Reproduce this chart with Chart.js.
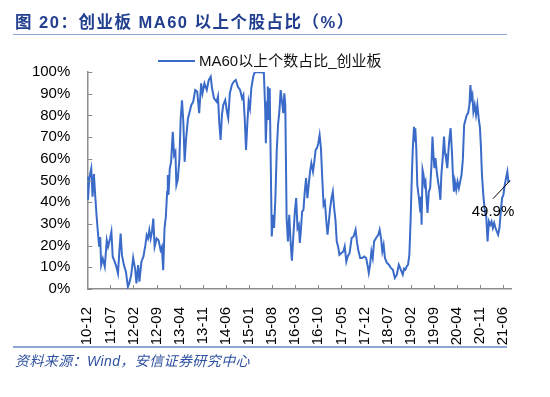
<!DOCTYPE html>
<html>
<head>
<meta charset="utf-8">
<script src="https://cdn.jsdelivr.net/npm/chart.js@4.4.0/dist/chart.umd.min.js"></script>
<style>
  body { margin: 0; background: #fff; }
  #wrap { position: relative; width: 550px; height: 397px; overflow: hidden; }
  #grafico { position: absolute; left: 0; top: 0; }
  .titulo { position: absolute; left: 15px; top: 9px; line-height: 20px; font: bold 16.5px "Liberation Sans", "Noto Sans CJK SC", sans-serif; letter-spacing: 1.5px; color: #22408f; white-space: nowrap; }
  .regla { position: absolute; left: 13px; width: 494px; height: 1.5px; background: #8ea6d2; }
  .leyenda { position: absolute; left: 158px; top: 51px; height: 20px; font: 15px "Liberation Sans", "Noto Sans CJK SC", sans-serif; color: #111; white-space: nowrap; }
  .leyenda i { position: absolute; left: 0; top: 9px; width: 37px; height: 2px; background: #3a6bc9; }
  .leyenda span { position: absolute; left: 41px; top: 0; line-height: 20px; }
  .fuente { position: absolute; left: 15px; top: 350px; line-height: 18px; font: italic 14px "Liberation Sans", "Noto Sans CJK SC", sans-serif; color: #2f52a0; white-space: nowrap; letter-spacing: 0.4px; }
</style>
</head>
<body>
<div id="wrap">
  <canvas id="grafico" width="550" height="397"></canvas>
  <div class="titulo">图 20：创业板 MA60 以上个股占比（%）</div>
  <div class="regla" style="top:33.5px"></div>
  <div class="leyenda"><i></i><span>MA60以上个数占比_创业板</span></div>
  <div class="regla" style="top:346px"></div>
  <div class="fuente">资料来源：Wind，安信证券研究中心</div>
</div>
<script>
// Etiquetas del eje x (cada 7 meses desde 2010-12)
const tickLabels = ["10-12", "11-07", "12-02", "12-09", "13-04", "13-11", "14-06", "15-01", "15-08", "16-03",
  "16-10", "17-05", "17-12", "18-07", "19-02", "19-09", "20-04", "20-11", "21-06"];

// Posición en meses desde 2010-12
const monthPos = [
  0, 0.2, 0.6, 1.2, 1.6, 2.0, 2.4, 2.8, 3.2, 3.6, 3.9, 4.2, 4.7, 5.3, 5.9, 6.3, 6.9, 7.3, 7.7, 8.3,
  8.8, 9.3, 9.7, 10.1, 10.5, 11.1, 11.7, 12.3, 12.7, 13.3, 13.9, 14.5, 14.9, 15.4, 15.8, 16.4, 17.0, 17.6, 18.0, 18.4,
  18.8, 19.2, 19.6, 20.0, 20.4, 21.0, 21.6, 22.2, 22.6, 23.0, 23.4, 23.8, 24.2, 24.4, 24.6, 25.0, 25.4, 25.9, 26.3, 26.7,
  27.0, 27.4, 27.9, 28.3, 28.7, 29.1, 29.5, 29.9, 30.5, 31.0, 31.5, 32.1, 32.7, 33.3, 33.9, 34.5, 34.9, 35.5, 36.2, 36.8,
  37.4, 37.8, 38.4, 39.2, 39.6, 40.0, 40.4, 40.8, 41.2, 41.8, 42.4, 42.7, 43.2, 43.8, 44.4, 45.0, 45.6, 46.3, 46.9, 47.3,
  47.7, 48.1, 48.5, 48.9, 49.3, 49.7, 50.3, 50.7, 51.8, 53.1, 53.5, 53.9, 54.1, 54.5, 54.7, 54.9, 55.1, 55.3, 55.6, 55.9,
  56.3, 56.6, 57.0, 57.4, 57.8, 58.2, 58.6, 59.0, 59.4, 59.7, 60.0, 60.4, 60.8, 61.2, 61.6, 62.0, 62.4, 62.9, 63.3, 63.7,
  64.1, 64.4, 64.7, 65.1, 65.5, 65.9, 66.3, 66.7, 67.1, 67.5, 67.9, 68.4, 68.8, 69.2, 69.6, 70.0, 70.4, 70.8, 71.2, 71.6,
  72.0, 72.4, 72.8, 73.2, 73.6, 74.0, 74.4, 74.8, 75.2, 75.6, 76.0, 76.4, 77.0, 77.6, 78.0, 78.5, 78.9, 79.5, 80.1, 80.7,
  81.3, 81.7, 82.1, 82.7, 83.3, 83.9, 84.5, 84.9, 85.3, 85.7, 86.1, 86.5, 86.9, 87.5, 88.2, 88.6, 89.0, 89.4, 89.8, 90.2,
  90.8, 91.4, 92.0, 92.6, 93.2, 93.8, 94.4, 95.0, 95.6, 96.0, 96.4, 96.8, 97.2, 97.6, 98.0, 98.3, 98.6, 99.0, 99.2, 99.4,
  99.7, 100.0, 100.5, 100.9, 101.1, 101.3, 101.6, 101.9, 102.2, 102.5, 102.8, 103.1, 103.5, 103.9, 104.3, 104.6, 104.9, 105.2, 105.5, 105.9,
  106.3, 106.7, 107.0, 107.3, 107.7, 108.1, 108.4, 108.7, 109.1, 109.5, 109.8, 110.1, 110.5, 110.8, 111.1, 111.4, 111.8, 112.2, 112.6, 113.0,
  113.4, 113.8, 114.2, 114.6, 115.0, 115.4, 115.8, 116.1, 116.4, 116.7, 117.0, 117.4, 117.8, 118.2, 118.6, 119.0, 119.3, 119.6, 120.0, 120.5,
  120.9, 121.3, 121.7, 122.1, 122.5, 122.9, 123.3, 123.7, 124.1, 124.5, 124.9, 125.3, 125.7, 126.1, 126.5, 126.9, 127.3, 127.6, 128.1
];

// MA60 以上个数占比 (%)
const share = [
  51.7, 41, 51, 55.5, 42.5, 53, 43, 34, 26.4, 19.5, 24, 11, 14, 10.3, 22.5, 19.5, 23.3, 26.4, 14.9, 12.6,
  10.3, 7.2, 17, 25.6, 15.6, 11, 8, 1, 2.6, 6.4, 14.4, 9.2, 2.6, 11, 3.4, 12.6, 14.9, 20.2, 24.8, 23.3,
  27.1, 23.3, 26.4, 32.5, 19.5, 23.3, 22.5, 17.9, 19.5, 8.7, 27.9, 33.3, 44.8, 52.5, 43.3, 55.5, 58.6, 72.4, 61.7, 63.2,
  47.9, 50.2, 59.4, 78.5, 87, 77, 58.6, 68.6, 78.5, 81.6, 84.7, 86.3, 91.7, 91, 81, 94.8, 90.2, 94.8, 91.7, 96.3,
  97.9, 92.5, 87.9, 86.3, 88.7, 76.4, 68.7, 80.2, 84.8, 87.1, 81, 78.7, 90.2, 94, 95.6, 96.3, 93.3, 91.7, 87.9, 89.4,
  78.7, 64.1, 76.4, 86.3, 83.3, 92.5, 97.9, 99.8, 100, 99.8, 100, 83.3, 67.2, 86.3, 93.3, 77.9, 92.5, 89.4, 57.2, 24.2,
  34.2, 28.1, 41.9, 63.3, 75.6, 81.7, 91.7, 86.3, 81, 90.2, 84.8, 32.7, 21.9, 34.2, 21.9, 13, 23.5, 35.7, 41.9, 28.1,
  29.6, 21.2, 26.5, 35.7, 36.5, 44.9, 51.1, 41.9, 48, 54.1, 58, 54.1, 58.7, 64.1, 64.9, 67.2, 71, 64.9, 51.1, 38.8,
  40.3, 31.9, 25, 31.1, 37.3, 41.9, 44.9, 37.3, 31.9, 21.9, 19.6, 15.8, 16.6, 17.3, 19.6, 12.7, 15, 16.6, 23.5, 24.2,
  27.3, 21.9, 18.1, 14.3, 14.3, 15, 14.3, 11.2, 7.4, 11.2, 17.3, 14.3, 21.9, 23.5, 25, 27.3, 23.5, 17.3, 20.4, 14.3,
  12, 11.2, 9.7, 8.9, 5.1, 6.6, 11.2, 8.9, 6.6, 9.4, 8.9, 10.4, 11.2, 15.8, 32.7, 49.5, 63.3, 74.8, 67.9, 74.1,
  64.9, 48, 41.9, 35.7, 42.6, 29.6, 54.9, 52.6, 48, 49.5, 41.9, 35, 44.9, 46.5, 57.2, 70.2, 61.8, 55.7, 60.3, 54.1,
  49.5, 45.7, 41.1, 52.6, 60.3, 70.2, 62.6, 60.3, 55.7, 64.9, 70.2, 74.1, 63.3, 52.6, 44.9, 49.5, 45.7, 49.5, 46.5, 49.5,
  52.6, 59.5, 75.6, 77.9, 80.2, 81, 84.8, 94, 87.9, 89.4, 81.7, 84.8, 80.2, 84.8, 78.7, 74.1, 64.9, 52.6, 43.4, 35.7,
  33.4, 21.9, 31.1, 29.6, 31.1, 28.1, 30.4, 28.1, 26.5, 25, 28.1, 35.7, 41.9, 43.4, 48, 51.1, 54.1, 49.5, 49.9
];

const yTicks = [0, 10, 20, 30, 40, 50, 60, 70, 80, 90, 100];

const colorLinea = "#3a6bc9";
const colorEje = "#8c8c8c";
const fuente = "'Liberation Sans', 'Noto Sans CJK SC', sans-serif";

// Marcas de eje hacia dentro y etiqueta del último valor
const marcasInternas = {
  id: "marcasInternas",
  afterDraw(chart) {
    const { ctx, scales: { x, y } } = chart;
    ctx.save();
    ctx.strokeStyle = colorEje;
    ctx.lineWidth = 1;
    ctx.beginPath();
    x.ticks.forEach(t => {
      const px = Math.round(x.getPixelForValue(t.value)) + 0.5;
      ctx.moveTo(px, y.bottom);
      ctx.lineTo(px, y.bottom - 4);
    });
    y.ticks.forEach(t => {
      const py = Math.round(y.getPixelForValue(t.value)) + 0.5;
      ctx.moveTo(x.left, py);
      ctx.lineTo(x.left + 5, py);
    });
    ctx.stroke();

    const ultimo = share[share.length - 1];
    const ex = x.getPixelForValue(monthPos[monthPos.length - 1]);
    const ey = y.getPixelForValue(ultimo);
    ctx.strokeStyle = "#000";
    ctx.lineWidth = 1;
    ctx.beginPath();
    ctx.moveTo(ex, ey);
    ctx.lineTo(ex - 17, ey + 18);
    ctx.stroke();
    ctx.fillStyle = "#000";
    ctx.font = "15px " + fuente;
    ctx.textAlign = "center";
    ctx.textBaseline = "middle";
    ctx.fillText(ultimo.toFixed(1) + "%", ex - 17, ey + 31);
    ctx.restore();
  }
};

const ctx = document.getElementById("grafico").getContext("2d");
const chart = new Chart(ctx, {
  type: "line",
  data: {
    datasets: [{
      label: "MA60以上个数占比_创业板",
      data: monthPos.map((m, i) => ({ x: m, y: share[i] })),
      borderColor: colorLinea,
      borderWidth: 2,
      pointRadius: 0,
      tension: 0,
      fill: false
    }]
  },
  options: {
    responsive: false,
    animation: false,
    devicePixelRatio: 1,
    layout: { padding: { top: 72, right: 39, left: 0, bottom: 48 } },
    plugins: { legend: { display: false }, tooltip: { enabled: false } },
    scales: {
      x: {
        type: "linear",
        min: 0,
        max: 128.4,
        afterFit: s => { s.height = 60; },
        afterBuildTicks: s => { s.ticks = tickLabels.map((_, i) => ({ value: i * 7 })); },
        grid: { display: false },
        border: { color: colorEje, width: 1.5 },
        ticks: {
          autoSkip: false,
          minRotation: 90,
          maxRotation: 90,
          padding: 10,
          color: "#000",
          font: { family: fuente, size: 15 },
          callback: v => tickLabels[Math.round(v / 7)]
        }
      },
      y: {
        min: 0,
        max: 100,
        afterFit: s => { s.width = 87.3; },
        afterBuildTicks: s => { s.ticks = yTicks.map(v => ({ value: v })); },
        grid: { display: false },
        border: { color: colorEje, width: 1.5 },
        ticks: {
          padding: 9,
          color: "#000",
          font: { family: fuente, size: 15 },
          callback: v => v + "%"
        }
      }
    }
  },
  plugins: [marcasInternas]
});
</script>
</body>
</html>
